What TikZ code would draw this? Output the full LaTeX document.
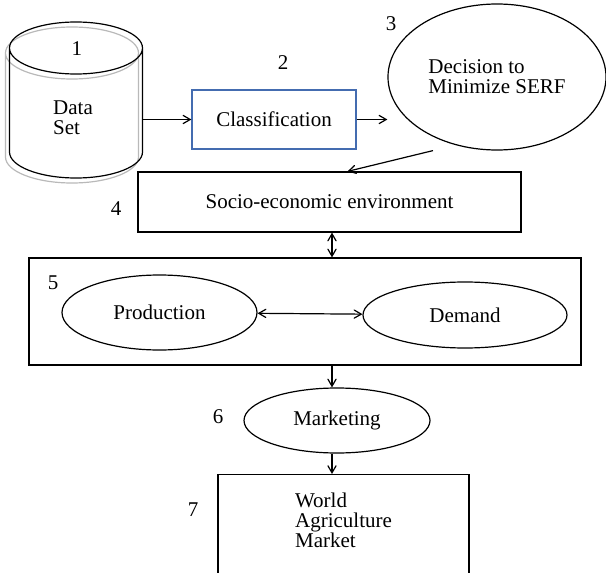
\documentclass[tikz,border=0pt]{standalone}
\usepackage{fontspec}
\setmainfont{Liberation Serif}
\usepackage{tikz}
\usetikzlibrary{shapes,positioning,arrows}
\definecolor{boxblue}{RGB}{68,108,176}
\tikzset{
	block/.style = {
		draw, rectangle, line width=0.6pt, inner sep=0pt, font=\fontsize{10.5}{10}\selectfont
	}
}
\tikzset{
	oval/.style = {
		block, ellipse
	}
}
\tikzset{
	flow/.style = {
		line width=0.6pt, -angle 60
	}
}
\tikzset{
	twoway/.style = {
		flow, angle 60-angle 60
	}
}
\tikzset{
	num/.style = {
		font=\fontsize{10.5}{10}\selectfont
	}
}

\begin{document}
\begin{tikzpicture}[x=0.5pt, y=-0.5pt]
	\clip (0,0) rectangle (606,573);

	% data store drum, grey copy behind
	\foreach \dx/\dy/\col in {-4/5/gray!55, 0/0/black}
		\draw[\col, line width=0.6pt, shift={(\dx,\dy)}] (9.5,48) -- (9.5,152)
			arc[start angle=180, end angle=0, x radius=66.5, y radius=26] -- (142.5,48)
			(76,48) ellipse [x radius=66.5, y radius=26];
	\coordinate (DataSetEast) at (142.5,100);
	\node[num, align=left](DataSet) at (73,118){Data\\Set};

	\node[block, draw=boxblue, minimum width=82pt, minimum height=29.5pt](Classification) at (274,119.5){Classification};
	\node[oval, align=left, minimum width=109pt, minimum height=73pt](Decision) at (497,77){Decision to\\Minimize SERF};
	\node[block, minimum width=191.5pt, minimum height=30pt](Socio) at (329.5,202){Socio-economic environment};
	\node[block, minimum width=276pt, minimum height=53.5pt](Sector) at (305,311.5){};
	\node[oval, minimum width=97.5pt, minimum height=37.5pt](Production) at (159.5,312.5){Production};
	\node[oval, minimum width=102pt, minimum height=33pt](Demand) at (465,315){Demand};
	\node[oval, minimum width=93pt, minimum height=32.5pt](Marketing) at (337,420.5){Marketing};
	\node[block, anchor=north, minimum width=125.5pt, minimum height=90pt](World) at (343.5,474){};
	\node[num, align=left, below=6pt of World.north](WorldText){World\\Agriculture\\Market};

	% step numbers
	\node[num](n1) at (77,49){1};
	\node[num](n2) at (283,63){2};
	\node[num](n3) at (391,24){3};
	\node[num](n4) at (116,209){4};
	\node[num](n5) at (53,283){5};
	\node[num](n6) at (218,417){6};
	\node[num](n7) at (193,510){7};

	\draw[flow] (Classification.west -| DataSetEast) -- (Classification.west);
	\draw[flow] (Classification.east) -- (Classification.east -| Decision.west);
	\draw[flow] ([xshift=-32pt]Decision.south) -- ([xshift=9pt]Socio.north);
	\draw[twoway] ([xshift=1.25pt]Socio.south) -- ([xshift=1.25pt]Socio.south |- Sector.north);
	\draw[twoway] (Production) -- (Demand);
	\draw[flow] ([xshift=-2.5pt]Marketing.north |- Sector.south) -- ([xshift=-2.5pt]Marketing.north);
	\draw[flow] ([xshift=-2.5pt]Marketing.south) -- ([xshift=-2.5pt]Marketing.south |- World.north);
\end{tikzpicture}
\end{document}
